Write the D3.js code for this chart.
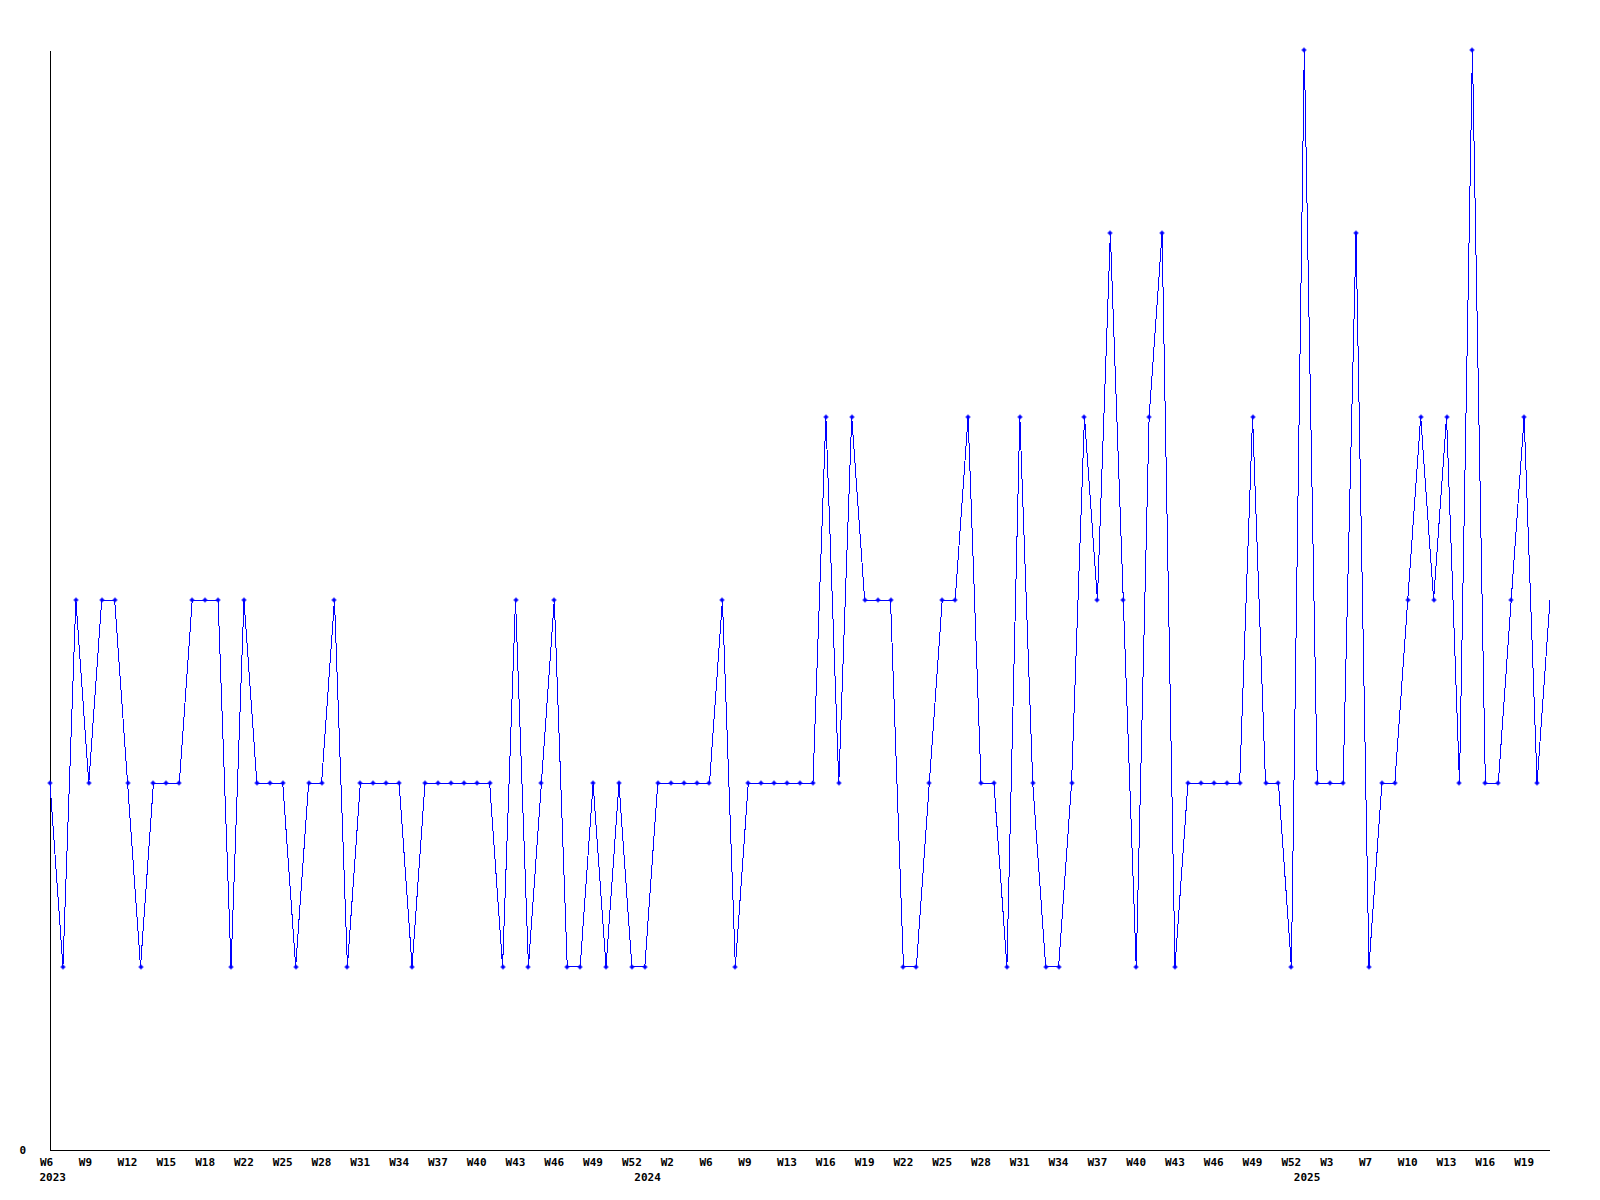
<!DOCTYPE html>
<html>
<head>
<meta charset="utf-8">
<script src="https://cdn.jsdelivr.net/npm/d3@7"></script>
<style>
  html, body { margin: 0; padding: 0; background: #fff; }
  svg { display: block; }
  text { font-family: "DejaVu Sans Mono", "Liberation Mono", monospace; font-weight: bold; font-size: 11px; fill: #000; }
</style>
</head>
<body>
<svg id="chart" width="1600" height="1200"></svg>
<script>
// Categories: week labels per year
const weeks2023 = ["W6","W7","W8","W9","W10","W11","W12","W13","W14","W15","W16","W17","W18","W20","W21",
  "W22","W23","W24","W25","W26","W27","W28","W29","W30","W31","W32","W33","W34","W35","W36","W37","W38","W39",
  "W40","W41","W42","W43","W44","W45","W46","W47","W48","W49","W50","W51","W52"];
const weeks2024 = ["W0","W1","W2","W3","W5","W6","W7","W8","W9","W10","W12","W13","W14","W15","W16","W17","W18",
  "W19","W20","W21","W22","W23","W24","W25","W26","W27","W28","W29","W30","W31","W32","W33","W34","W35","W36",
  "W37","W38","W39","W40","W41","W42","W43","W44","W45","W46","W47","W48","W49","W50","W51","W52"];
const weeks2025 = ["W1","W2","W3","W4","W5","W7","W8","W9","W10","W11","W12","W13","W14","W15","W16","W17","W18",
  "W19","W20","W21"];
const years = ["2023","2024","2025"];

// Series values
const values2023 = [2,1,3,2,3,3,2,1,2,2,2,3,3,3,1,3,2,2,2,1,2,2,3,1,2,2,2,2,1,2,2,2,2,2,2,1,3,1,2,3,1,1,2,1,2,1];
const values2024 = [1,2,2,2,2,2,3,1,2,2,2,2,2,2,4,2,4,3,3,3,1,1,2,3,3,4,2,2,1,4,2,1,1,2,4,3,5,3,1,4,5,1,2,2,2,2,2,4,2,2,1];
const values2025 = [6,2,2,2,5,1,2,2,3,4,3,4,2,6,2,2,3,4,2,3];

// Y tick labels
const yTicks = [0];

// Build table
const data = [];
[[weeks2023, values2023, years[0]], [weeks2024, values2024, years[1]], [weeks2025, values2025, years[2]]]
  .forEach(([w, v, yr]) => w.forEach((wk, i) => data.push({ week: wk, year: yr, value: v[i], first: i === 0 })));
data.forEach((d, i) => d.idx = i);

const svg = d3.select("#chart");
const mLeft = 50, mRight = 1550, mTop = 50, mBottom = 1150;

const x = d3.scalePoint().domain(data.map(d => d.idx)).range([mLeft, mRight]);
const y = d3.scaleLinear().domain([0, 6]).range([mBottom, mTop]);

// Y axis
const yAxis = svg.append("g").attr("transform", `translate(${mLeft},0)`)
  .call(d3.axisLeft(y).tickValues(yTicks).tickSize(0).tickPadding(24).tickFormat(d3.format("d")));
yAxis.select(".domain").attr("stroke", "#000").attr("shape-rendering", "crispEdges");
yAxis.selectAll("text").attr("dy", "0.38em").attr("y", -1);

// X axis
const tickIdx = data.filter(d => d.idx % 3 === 0).map(d => d.idx);
const xAxis = svg.append("g").attr("transform", `translate(0,${mBottom})`)
  .call(d3.axisBottom(x).tickValues(tickIdx).tickSize(0).tickPadding(0).tickFormat(i => data[i].week));
xAxis.select(".domain").attr("stroke", "#000").attr("shape-rendering", "crispEdges").attr("d", `M${mLeft},0.5H${mRight}`);
xAxis.selectAll(".tick text").attr("text-anchor", "start").attr("dx", -10.5).attr("dy", 0).attr("y", 16);

// Year labels
svg.append("g").selectAll("text").data(data.filter(d => d.first)).join("text")
  .attr("x", d => x(d.idx) - 10.5).attr("y", 1181).attr("text-anchor", "start").text(d => d.year);

// Line
const line = d3.line().x(d => x(d.idx)).y(d => y(d.value));
svg.append("path").datum(data).attr("d", line)
  .attr("fill", "none").attr("stroke", "#0000ff").attr("stroke-width", 1).attr("shape-rendering", "crispEdges");

// Markers
svg.append("g").selectAll("path").data(data.slice(0, -1)).join("path")
  .attr("transform", d => `translate(${Math.round(x(d.idx))},${Math.round(y(d.value))})`)
  .attr("d", "M-2.5,-0.5h5v1h-5z M-0.5,-2.5h1v5h-1z M-1.5,-1.5h3v3h-3z")
  .attr("fill", "#0000ff");
</script>
</body>
</html>
